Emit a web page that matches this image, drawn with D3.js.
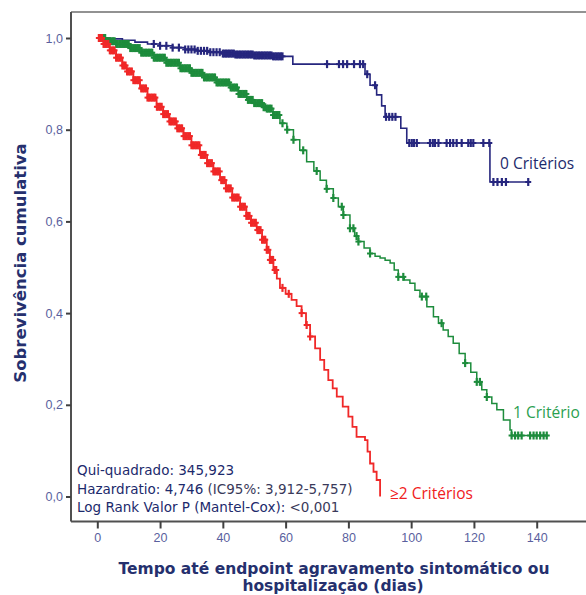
<!DOCTYPE html>
<html>
<head>
<meta charset="utf-8">
<script src="https://cdn.jsdelivr.net/npm/d3@7"></script>
<style>
  body { margin: 0; background: #fff; }
  svg { display: block; }
</style>
</head>
<body>
<div id="chart"></div>
<script>
// tick labels
const xTicks = [0, 20, 40, 60, 80, 100, 120, 140];
const yTicks = [0, 0.2, 0.4, 0.6, 0.8, 1.0];

// 0 criterios (event times / survival)
const blueT = [0, 4, 8, 12, 16, 20, 24, 28, 32, 36, 40, 44, 50, 56, 62.3, 85.3, 86.9, 89, 90.6, 91.7, 96.7, 98.6, 125.1, 137.3];
const blueS = [1.0, 0.998, 0.995, 0.991, 0.987, 0.983, 0.979, 0.975, 0.972, 0.969, 0.966, 0.964, 0.962, 0.960, 0.943, 0.921, 0.897, 0.876, 0.852, 0.828, 0.803, 0.771, 0.686, 0.686];
const blueCens = [18, 20, 22, 24, 26, 28, 29, 30, 31, 32, 33, 34, 35, 36, 37, 38, 39, 40, 40.5, 41, 41.5, 42, 42.5, 43, 43.5, 44, 44.5, 45, 45.5, 46, 46.5, 47, 47.5, 48, 48.5, 49, 49.5, 50, 50.5, 51, 51.5, 52, 52.5, 53, 53.5, 54, 54.5, 55, 55.5, 56, 56.5, 57, 57.5, 58, 58.5, 59,
  73.2, 77, 78.3, 79.6, 81.8, 83.7, 84.7, 86, 88.5, 92, 93, 94, 95, 99.4, 100.2, 100.9, 101.8, 106, 106.9, 107.6, 108.7,
  111.3, 112.4, 113.4, 114.5, 116.1, 118.2, 119, 119.8, 123, 124.9, 126.2, 127.5, 128.9, 130.2, 137.3];

// 1 criterio
const greenT = [0, 3, 6, 10.4, 14, 18, 22, 26.4, 30, 34, 38, 42.3, 45, 47.6, 50, 52.8, 54, 56, 58.2, 60.4, 62.5, 64.5, 66.7, 69, 71, 73, 75.2, 76.8, 78.4, 80.5, 82, 83.2, 85, 86.9, 88.5, 90.1, 91.7, 93.3, 94.6, 95.9, 97.8, 99.6, 101.2, 102.8, 105, 107.1, 108.7, 110.2, 111.8, 113.4, 115.3, 117.2, 119, 120.9, 122.5, 124.1, 125.7, 127.3, 129.4, 131.5, 132, 143.7];
const greenS = [1.0, 0.993, 0.987, 0.978, 0.968, 0.957, 0.946, 0.934, 0.924, 0.914, 0.903, 0.892, 0.878, 0.865, 0.858, 0.849, 0.846, 0.832, 0.814, 0.800, 0.778, 0.755, 0.730, 0.710, 0.690, 0.671, 0.651, 0.632, 0.614, 0.585, 0.568, 0.556, 0.542, 0.530, 0.524, 0.520, 0.515, 0.509, 0.494, 0.479, 0.472, 0.465, 0.450, 0.436, 0.414, 0.392, 0.378, 0.363, 0.349, 0.334, 0.312, 0.291, 0.271, 0.250, 0.233, 0.217, 0.203, 0.189, 0.167, 0.145, 0.133, 0.133];
const greenCens = [1, 1.5, 2, 2.5, 3, 3.5, 4, 4.5, 5, 5.5, 6, 6.5, 7, 7.5, 8, 8.5, 9, 9.5, 10, 10.5, 11, 11.5, 12, 12.5, 13, 13.5, 14, 14.5, 15, 15.5, 16, 16.5, 17, 17.5, 18, 18.5, 19, 19.5, 20, 20.5,
  21, 21.5, 22, 22.5, 23, 23.5, 24, 24.5, 25, 25.5, 26, 26.5, 27, 27.5, 28, 28.5, 29, 29.5, 30, 30.5, 31, 31.5, 32, 32.5, 33, 33.5, 34, 34.5, 35, 35.5, 36, 36.5, 37, 37.5, 38, 38.5, 39, 39.5, 40, 40.5,
  41, 41.5, 42, 42.5, 43, 43.5, 44, 44.5, 45, 45.5, 46, 46.5, 47, 47.5, 48, 48.5, 49, 49.5, 50, 50.5, 51, 51.5, 52, 52.5, 53, 53.5, 54, 54.5, 55, 55.5, 56, 56.5, 57, 57.5, 58,
  59, 60.5, 62.5, 65.6, 69.9, 73.1, 75.2, 77.9, 78.4, 80.5, 81.6, 82.6, 83.2, 86.9, 95.9, 97.5, 103.4, 104.8, 109.7, 117.2, 120.9, 121.9, 124.1,
  132, 133.1, 134.1, 135.2, 137.9, 139, 140, 141.1, 142.2, 143.2];

// >=2 criterios
const redT = [0, 2, 4, 6, 8, 9.4, 11.5, 13.6, 16, 18.9, 21, 23, 25.3, 27.5, 30, 32.7, 35, 37, 39.1, 41, 43, 45.5, 47.5, 49, 50.8, 52.5, 54, 55, 56.1, 57.2, 58.2, 60, 61.9, 63.5, 65.1, 66.5, 67.8, 69.4, 71, 72.3, 73.6, 75, 76.3, 78.2, 80, 81.3, 82.6, 85.3, 86.1, 86.9, 88, 89, 90.1];
const redS = [1.0, 0.987, 0.973, 0.957, 0.940, 0.927, 0.908, 0.890, 0.870, 0.850, 0.834, 0.818, 0.803, 0.786, 0.766, 0.745, 0.727, 0.709, 0.690, 0.672, 0.652, 0.632, 0.612, 0.597, 0.581, 0.560, 0.538, 0.516, 0.494, 0.475, 0.455, 0.442, 0.429, 0.415, 0.400, 0.374, 0.349, 0.323, 0.298, 0.276, 0.254, 0.236, 0.218, 0.196, 0.174, 0.152, 0.130, 0.123, 0.098, 0.072, 0.054, 0.036, 0.0];
const redCens = [0.5, 1, 1.5, 2, 2.5, 3, 3.5, 4, 4.5, 5, 5.5, 6, 6.5, 7, 7.5, 8, 8.5, 9, 9.5, 10, 10.5, 11, 11.5, 12, 12.5, 13, 13.5, 14, 14.5, 15, 15.5, 16, 16.5, 17, 17.5, 18, 18.5, 19, 19.5, 20, 20.5,
  21, 21.5, 22, 22.5, 23, 23.5, 24, 24.5, 25, 25.5, 26, 26.5, 27, 27.5, 28, 28.5, 29, 29.5, 30, 30.5, 31, 31.5, 32, 32.5, 33, 33.5, 34, 34.5, 35, 35.5, 36, 36.5, 37, 37.5, 38, 38.5, 39, 39.5, 40, 40.5,
  41, 41.5, 42, 42.5, 43, 43.5, 44, 44.5, 45, 45.5, 46, 46.5, 47, 47.5, 48, 48.5, 49, 49.5, 50, 50.5, 51, 51.5, 52, 52.5, 53, 53.5, 54, 54.5, 55, 55.5, 56, 56.5, 57, 59, 61, 65.1, 66.7, 67.8];

const groups = [
  {name: "0 Critérios", t: blueT, s: blueS, cens: blueCens, color: "#26267e", labelColor: "#1c2a6c", lx: 500, ly: 169, w: 1.6},
  {name: "1 Critério", t: greenT, s: greenS, cens: greenCens, color: "#1d8c3c", labelColor: "#2aa050", lx: 513, ly: 418, w: 1.5},
  {name: "≥2 Critérios", t: redT, s: redS, cens: redCens, color: "#f02828", labelColor: "#f02020", lx: 390, ly: 499, w: 1.8}
];

const stats = [
  ["Qui-quadrado: 345,923", ""],
  ["Hazardratio: 4,746 ", "(IC95%: 3,912-5,757)"],
  ["Log Rank  Valor P (Mantel-Cox): ", "<0,001"]
];

const W = 586, H = 595;
const svg = d3.select("#chart").append("svg").attr("width", W).attr("height", H);

// scales
const x = d3.scaleLinear().domain([0, 140]).range([97.3, 536.7]);
const y = d3.scaleLinear().domain([0, 1]).range([496.5, 38]);

const frameL = 71, frameT = 12, frameB = 521.5;

// frame
svg.append("line").attr("x1", frameL).attr("x2", W).attr("y1", frameT).attr("y2", frameT)
  .attr("stroke", "#6e6e6e").attr("stroke-width", 1.5);
svg.append("line").attr("x1", frameL).attr("x2", frameL).attr("y1", frameT).attr("y2", frameB)
  .attr("stroke", "#505050").attr("stroke-width", 2);
svg.append("line").attr("x1", frameL).attr("x2", W).attr("y1", frameB).attr("y2", frameB)
  .attr("stroke", "#505050").attr("stroke-width", 2);

// axes
const yAxis = d3.axisLeft(y).tickValues(yTicks).tickSize(5).tickSizeOuter(0).tickPadding(3)
  .tickFormat(d => d.toFixed(1).replace(".", ","));
const gy = svg.append("g").attr("transform", `translate(${frameL},0)`).call(yAxis);
gy.select(".domain").remove();

const xAxis = d3.axisBottom(x).tickValues(xTicks).tickSize(7).tickSizeOuter(0).tickPadding(5);
const gx = svg.append("g").attr("transform", `translate(0,${frameB})`).call(xAxis);
gx.select(".domain").remove();

svg.selectAll(".tick line").attr("stroke", "#404040").attr("stroke-width", 2);
svg.selectAll(".tick text").attr("fill", "#5a5f9e")
  .style("font-family", "'Liberation Sans', Arial, sans-serif").style("font-size", "12.5px");

// curves
const line = d3.line().x(d => x(d[0])).y(d => y(d[1])).curve(d3.curveStepAfter);

function survAt(g, t) {
  let v = g.s[0];
  for (let i = 0; i < g.t.length; i++) if (g.t[i] <= t) v = g.s[i];
  return v;
}

groups.forEach(g => {
  const pts = g.t.map((t, i) => [t, g.s[i]]);
  svg.append("path").datum(pts).attr("d", line)
    .attr("fill", "none").attr("stroke", g.color).attr("stroke-width", g.w);

  // censor marks "+"
  const cg = svg.append("g").attr("stroke", g.color);
  g.cens.forEach(c => {
    const cx = x(c), cy = y(survAt(g, c));
    cg.append("line").attr("x1", cx).attr("x2", cx).attr("y1", cy - 4).attr("y2", cy + 4).attr("stroke-width", 2.2);
    cg.append("line").attr("x1", cx - 3).attr("x2", cx + 3).attr("y1", cy).attr("y2", cy).attr("stroke-width", 2);
  });

  svg.append("text").attr("x", g.lx).attr("y", g.ly).text(g.name)
    .attr("fill", g.labelColor)
    .style("font-family", "'Open Sans', sans-serif").style("font-size", "15.5px");
});

// stats box text
stats.forEach((r, i) => {
  const t = svg.append("text").attr("x", 77).attr("y", 475 + i * 18.5)
    .style("font-family", "'DejaVu Sans', sans-serif").style("font-size", "13.5px");
  t.append("tspan").attr("fill", "#1c2a6c").text(r[0]);
  t.append("tspan").attr("fill", "#3a3a5a").text(r[1]);
});

// axis titles
const titleFont = "'DejaVu Sans', sans-serif";
svg.append("text")
  .attr("transform", "translate(26,263) rotate(-90)")
  .attr("text-anchor", "middle")
  .attr("fill", "#25306e")
  .style("font-family", titleFont).style("font-weight", "bold").style("font-size", "16.5px")
  .text("Sobrevivência cumulativa");

svg.append("text").attr("x", 334).attr("y", 574).attr("text-anchor", "middle")
  .attr("fill", "#25306e")
  .style("font-family", titleFont).style("font-weight", "bold").style("font-size", "15.5px")
  .text("Tempo até endpoint agravamento sintomático ou");
svg.append("text").attr("x", 333).attr("y", 591).attr("text-anchor", "middle")
  .attr("fill", "#25306e")
  .style("font-family", titleFont).style("font-weight", "bold").style("font-size", "15.5px")
  .text("hospitalização (dias)");
</script>
</body>
</html>
